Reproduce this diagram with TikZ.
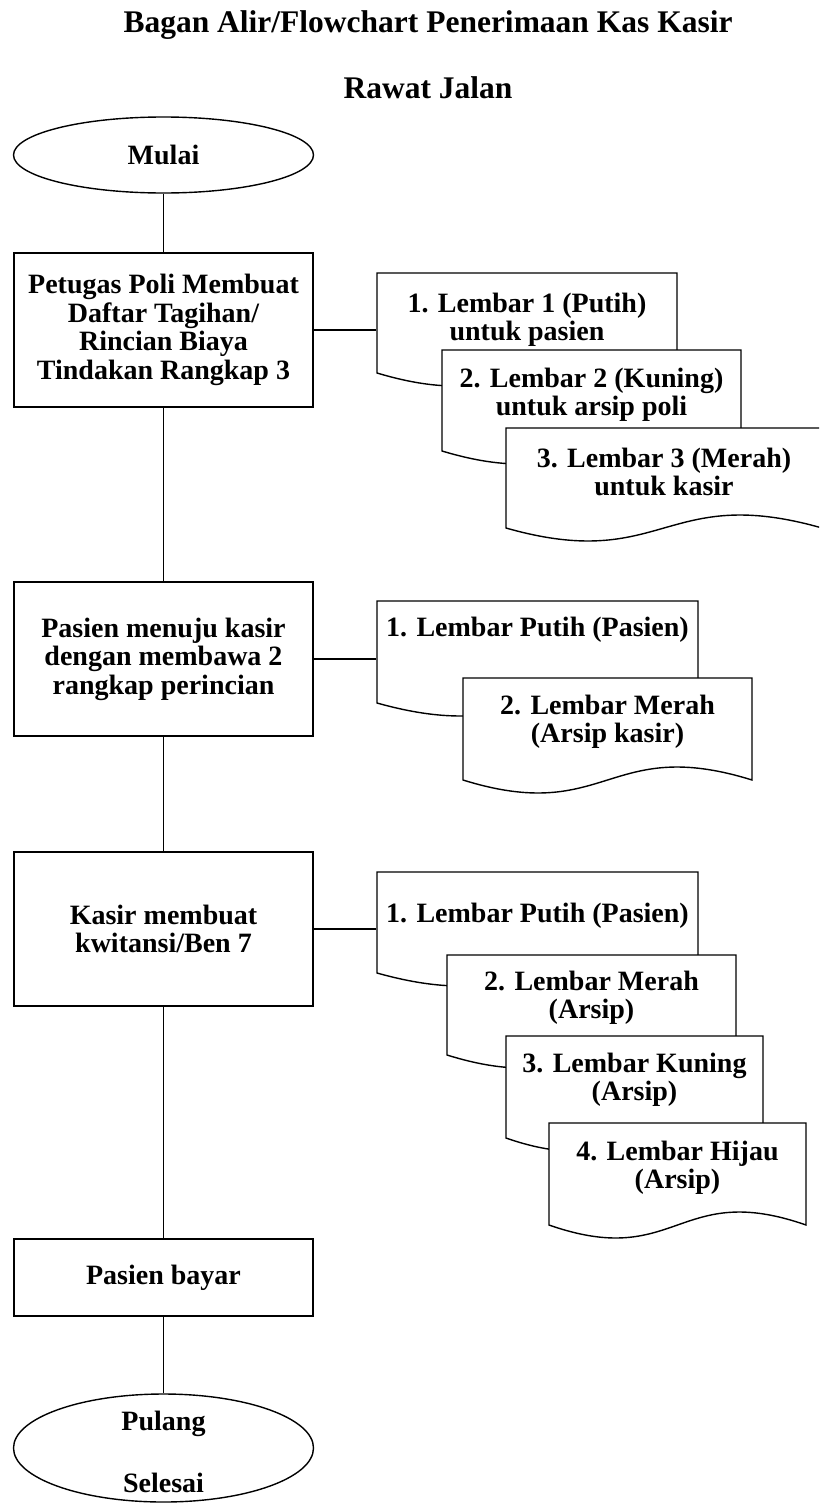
\documentclass[tikz,border=0pt]{standalone}
\usepackage{fontspec}
\setmainfont{Liberation Serif}
\usetikzlibrary{shapes.geometric}
\newcommand\docshape[4]{\path[docline] (#1,#2) -- (#3,#2) -- (#3,#4) .. controls ({(#1+#3)/2},{#4-45}) and ({(#1+#3)/2},{#4+45}) .. (#1,#4) -- cycle;}
\begin{document}
\begin{tikzpicture}[x=1pt,y=-1pt,line width=1.4pt,
  lbl/.style={font=\fontsize{28}{28.5}\selectfont\bfseries, align=center, inner sep=0pt},
  ttl/.style={font=\fontsize{31.5}{32}\selectfont\bfseries, inner sep=0pt, anchor=base},
  procbox/.style={lbl, draw, rectangle, minimum width=299pt},
  term/.style={lbl, draw, ellipse, minimum width=300pt},
  doctext/.style={lbl},
  docline/.style={draw, fill=white, line join=miter},
  conn/.style={draw}]
\useasboundingbox (0,0) rectangle (819,1504);
\clip (0,0) rectangle (819,1504);
\fill[white] (0,0) rectangle (819,1504);

% title
\node[ttl] (t1) at (428,33) {Bagan Alir/Flowchart Penerimaan Kas Kasir};
\node[ttl] (t2) at (428,98) {Rawat Jalan};

% main column
\node[term, minimum height=76pt] (mulai) at (163.5,155) {Mulai};
\node[procbox, minimum height=154pt] (b1) at (163.5,330) {Petugas Poli Membuat\\Daftar Tagihan/\\Rincian Biaya\\Tindakan Rangkap 3};
\node[procbox, minimum height=154pt] (b2) at (163.5,659) {Pasien menuju kasir\\dengan membawa 2\\rangkap perincian};
\node[procbox, minimum height=154pt] (b3) at (163.5,929) {Kasir membuat\\kwitansi/Ben 7};
\node[procbox, minimum height=77pt] (b4) at (163.5,1277.5) {Pasien bayar};
\node[term, minimum height=108pt, inner ysep=-20pt] (selesai) at (163.5,1448) {\rule{0pt}{27.5pt}Pulang\\[33.5pt]Selesai};

% document outlines (back to front)
\docshape{377}{273}{677}{373}
\docshape{442}{350}{741}{451}
\docshape{506}{428}{822}{528}
\docshape{377}{601}{698}{703}
\docshape{463}{678}{752}{780}
\docshape{377}{872}{698}{973}
\docshape{447}{955}{736}{1055}
\docshape{506}{1036}{763}{1138}
\docshape{549}{1123}{806}{1225}

% document texts
\node[doctext, minimum width=300pt] (d1a) at (527,320) {1. Lembar 1 (Putih)\\untuk pasien};
\node[doctext, minimum width=299pt] (d1b) at (591.5,395) {2. Lembar 2 (Kuning)\\untuk arsip poli};
\node[doctext, minimum width=316pt] (d1c) at (664,472) {3. Lembar 3 (Merah)\\untuk kasir};
\node[doctext, minimum width=321pt] (d2a) at (537.5,630) {1. Lembar Putih (Pasien)};
\node[doctext, minimum width=289pt] (d2b) at (607.5,722) {2. Lembar Merah\\(Arsip kasir)};
\node[doctext, minimum width=321pt] (d3a) at (537.5,916) {1. Lembar Putih (Pasien)};
\node[doctext, minimum width=289pt] (d3b) at (591.5,998) {2. Lembar Merah\\(Arsip)};
\node[doctext, minimum width=257pt] (d3c) at (634.5,1080) {3. Lembar Kuning\\(Arsip)};
\node[doctext, minimum width=257pt] (d3d) at (677.5,1168) {4. Lembar Hijau\\(Arsip)};

% connectors
\draw[conn] (mulai.south) -- (b1.north);
\draw[conn] (b1.south) -- (b2.north);
\draw[conn] (b2.south) -- (b3.north);
\draw[conn] (b3.south) -- (b4.north);
\draw[conn] (b4.south) -- (selesai.north);
\draw[conn] (b1.east) -- (b1.east -| d1a.west);
\draw[conn] (b2.east) -- (b2.east -| d2a.west);
\draw[conn] (b3.east) -- (b3.east -| d3a.west);
\end{tikzpicture}
\end{document}
